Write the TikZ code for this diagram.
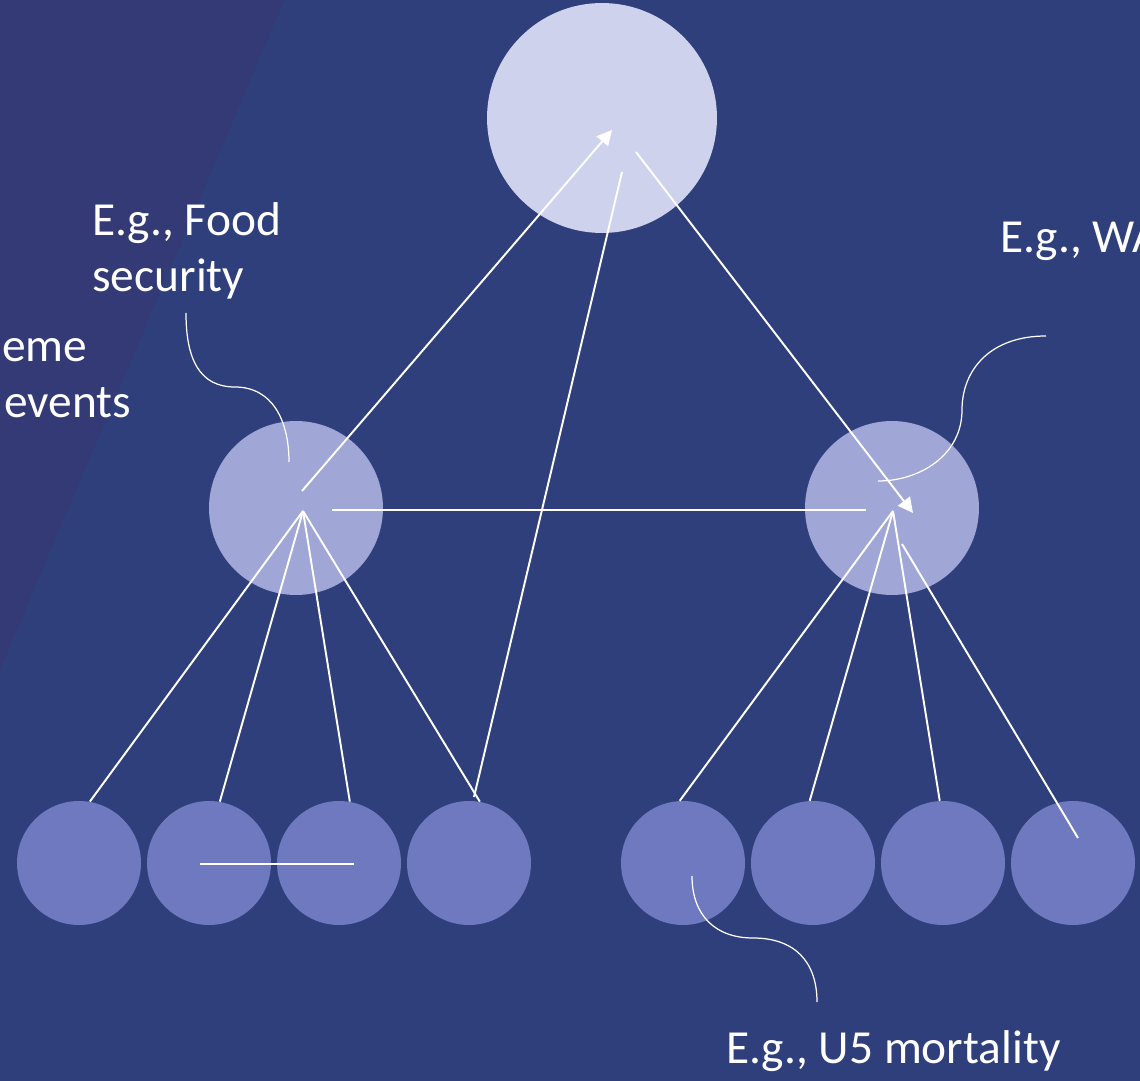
\documentclass[tikz,border=0pt]{standalone}
\usepackage{fontspec}
\setmainfont{Carlito}
\usetikzlibrary{arrows.meta}
\definecolor{slideblue}{HTML}{2F3F7C}
\definecolor{slidepurple}{HTML}{333A75}
\definecolor{topfill}{HTML}{CED2EC}
\definecolor{midfill}{HTML}{A0A6D6}
\definecolor{lowfill}{HTML}{6F79C0}
\begin{document}
\begin{tikzpicture}[x=0.02cm,y=-0.02cm,
	goalnode/.style={circle, fill=topfill, minimum size=4.6cm, inner sep=0pt},
	hubnode/.style={circle, fill=midfill, minimum size=3.48cm, inner sep=0pt},
	indicator/.style={circle, fill=lowfill, minimum size=2.48cm, inner sep=0pt},
	link/.style={white, line width=1.1pt},
	push/.style={link, -{Triangle[length=0.3cm,width=0.3cm]}},
	callout/.style={white, line width=0.7pt},
	lbl/.style={text=white, font=\fontsize{27}{32}\selectfont, inner sep=0pt, align=left}]
	
	\useasboundingbox (0,0) rectangle (1140,1081);
	\clip (0,0) rectangle (1140,1081);
	\fill[slideblue] (0,0) rectangle (1140,1081);
	\fill[slidepurple] (0,0) -- (284,0) -- (0,669) -- cycle;
	
	\node[goalnode] (G) at (602,118) {};
	\node[hubnode] (L) at (296,508) {};
	\node[hubnode] (R) at (892,508) {};
	
	\foreach \x [count=\i] in {79,209,339,469,683,813,943,1073}
		\node[indicator] (b\i) at (\x,863) {};
	
	% hubs and free ends
	\coordinate (Lhub) at (303,511);
	\coordinate (Rhub) at (893,511);
	\coordinate (Lup) at (302,491);
	\coordinate (Gin) at (612,130);
	\coordinate (Gout) at (636,152);
	\coordinate (Gfoot) at (622,172);
	\coordinate (Rin) at (913,513);
	\coordinate (Lright) at (332,510);
	\coordinate (Rleft) at (866,510);
	\coordinate (Rside) at (902,544);
	\coordinate (b4up) at (474,797);
	\coordinate (b8in) at (1078,838);
	\coordinate (b2mid) at (200,864);
	\coordinate (b3mid) at (354,864);
	
	\draw[push] (Lup) -- (Gin);
	\draw[push] (Gout) -- (Rin);
	\draw[link] (b4up) -- (Gfoot);
	\draw[link] (Lright) -- (Rleft);
	\draw[link] (b2mid) -- (b3mid);
	
	\foreach \i in {1,...,4}
		\draw[link] (Lhub) -- (b\i.80);
	\foreach \i in {5,...,7}
		\draw[link] (Rhub) -- (b\i.93);
	\draw[link] (Rside) -- (b8in);
	
	% labels (base = last line)
	\node[lbl, anchor=base west] (food) at (92,292) {E.g., Food\\security};
	\node[lbl, anchor=base west] (wash) at (1000,253) {E.g., WA};
	\node[lbl, anchor=base west] (extreme) at (2,418) {eme\\\hspace{3\pgflinewidth}events};
	\node[lbl, anchor=base west] (u5) at (726,1063) {E.g., U5 mortality};
	
	\coordinate (foodtail) at (186,313);
	\coordinate (foodtip) at (289,462);
	\coordinate (washtail) at (1046,336);
	\coordinate (washtip) at (878,481);
	\coordinate (u5tip) at (692,876);
	\coordinate (u5tail) at (817,1002);
	
	\draw[callout] (foodtail) .. controls (186,360) and (200,387) .. (235,387) .. controls (272,387) and (289,420) .. (foodtip);
	\draw[callout] (washtail) .. controls (990,336) and (962,370) .. (962,410) .. controls (962,455) and (920,481) .. (washtip);
	\draw[callout] (u5tip) .. controls (692,915) and (715,938) .. (753,938) .. controls (795,938) and (817,962) .. (u5tail);
	
\end{tikzpicture}
\end{document}
